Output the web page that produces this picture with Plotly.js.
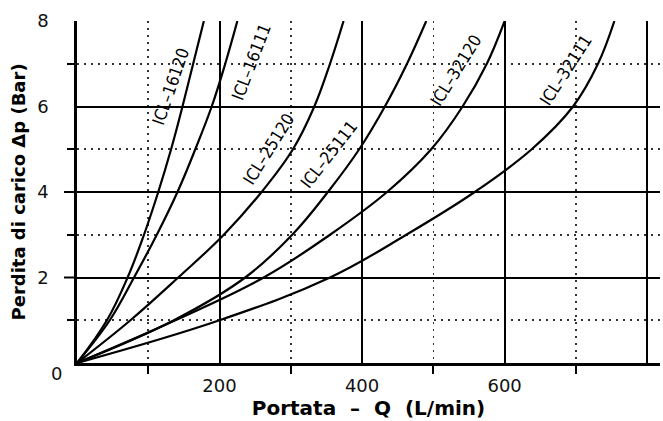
<!DOCTYPE html>
<html><head><meta charset="utf-8">
<script src="https://cdn.plot.ly/plotly-3.0.1.min.js"></script>
<style>html,body{margin:0;padding:0;background:#fff}#chart{width:663px;height:421px}</style>
</head><body><div id="chart"></div>
<script>
// Pressure-drop levels (Bar) and the flow (L/min) at which each curve reaches them
const dpLevels = [0, 1, 2, 3, 4, 5, 6, 7, 8];
const seriesNames = ['ICL\u201316120', 'ICL\u201316111', 'ICL\u201325120', 'ICL\u201325111', 'ICL\u201332120', 'ICL\u201332111'];
const q16120 = [0, 42, 71, 94, 114, 132, 148, 163, 178];
const q16111 = [0, 46, 80, 112, 141, 166, 189, 208, 225];
const q25120 = [0, 75, 142, 206, 259, 303, 333, 355, 374];
const q25111 = [0, 136, 236, 302, 352, 396, 432, 463, 490];
const q32120 = [0, 138, 262, 355, 435, 497, 541, 575, 600];
const q32111 = [0, 200, 355, 462, 558, 638, 696, 731, 754];
const xMajorTicks = [200, 400, 600, 800];
const xMinorTicks = [100, 300, 500, 700];
const yMajorTicks = [2, 4, 6, 8];
const yMinorTicks = [1, 3, 5, 7];
const yOutTicks = [2, 4];
const xTitle = 'Portata\u00a0\u00a0\u2013\u00a0\u00a0Q\u00a0\u00a0(L/min)';
const yTitle = 'Perdita di carico \u0394p (Bar)';

// label placement (styling, not data)
const labelPos = [
  {x: 132, y: 6.47, a: -71},
  {x: 245, y: 7.03, a: -69},
  {x: 269, y: 5.0, a: -58},
  {x: 354, y: 4.88, a: -52},
  {x: 532, y: 6.85, a: -58},
  {x: 686, y: 6.85, a: -57}
];

const qSeries = [q16120, q16111, q25120, q25111, q32120, q32111];
const traces = qSeries.map((q, i) => ({
  type: 'scatter', mode: 'lines', x: q, y: dpLevels, name: seriesNames[i],
  line: {color: '#000', width: 2.2, shape: 'spline', smoothing: 1.1},
  hoverinfo: 'skip', cliponaxis: true
}));

const tickFont = {family: 'DejaVu Sans, sans-serif', size: 18, color: '#111'};
const xTitleFont = {family: 'DejaVu Sans, sans-serif', size: 20, color: '#000', weight: 'bold'};
const yTitleFont = {family: 'DejaVu Sans, sans-serif', size: 18, color: '#000', weight: 'bold'};

const annotations = seriesNames.map((n, i) => ({
  x: labelPos[i].x, y: labelPos[i].y, xref: 'x', yref: 'y', text: n, showarrow: false,
  textangle: labelPos[i].a,
  font: {family: 'DejaVu Sans Condensed, DejaVu Sans, sans-serif', size: 17, color: '#000'}
}));
annotations.push({x: 0, y: 0, xref: 'x', yref: 'y', text: '0', showarrow: false,
  xanchor: 'center', yanchor: 'middle', xshift: -21, yshift: -10, font: tickFont});
annotations.push({x: (17.5 - 77) / 583, y: 0.5, xref: 'paper', yref: 'paper', text: yTitle,
  showarrow: false, textangle: -90, xanchor: 'center', yanchor: 'middle', font: yTitleFont});

const shapes = yOutTicks.map(v => ({type: 'line', xref: 'paper', yref: 'y',
  x0: -13 / 583, x1: 0, y0: v, y1: v, line: {color: '#000', width: 2}}));

const layout = {
  width: 663, height: 421,
  margin: {l: 77, r: 3, t: 21, b: 58, pad: 0},
  paper_bgcolor: '#fff', plot_bgcolor: '#fff',
  showlegend: false,
  xaxis: {
    range: [0, 818], tickmode: 'array', tickvals: xMajorTicks, ticktext: xMajorTicks.map(String),
    ticks: '', showgrid: true, gridcolor: '#000', gridwidth: 2,
    showline: true, linecolor: '#000', linewidth: 2.6, zeroline: false,
    tickfont: tickFont, ticklabelstandoff: 5,
    minor: {tickmode: 'array', tickvals: xMinorTicks, showgrid: true, gridcolor: '#333', gridwidth: 1.6,
            griddash: '2px,5px', ticks: 'outside', ticklen: 8, tickwidth: 1.8, tickcolor: '#000'},
    title: {text: xTitle, font: xTitleFont, standoff: 3},
    fixedrange: true
  },
  yaxis: {
    range: [0, 8], tickmode: 'array', tickvals: yMajorTicks, ticktext: yMajorTicks.map(String),
    ticks: '', showgrid: true, gridcolor: '#000', gridwidth: 2,
    showline: true, linecolor: '#000', linewidth: 2.6, zeroline: false,
    tickfont: tickFont, ticklabelstandoff: 22,
    minor: {tickmode: 'array', tickvals: yMinorTicks, showgrid: true, gridcolor: '#333', gridwidth: 1.6,
            griddash: '2px,5px', ticks: 'outside', ticklen: 7, tickwidth: 1.8, tickcolor: '#000'},
    fixedrange: true
  },
  annotations: annotations,
  shapes: shapes
};

Plotly.newPlot('chart', traces, layout, {displayModeBar: false, staticPlot: true});
</script></body></html>
